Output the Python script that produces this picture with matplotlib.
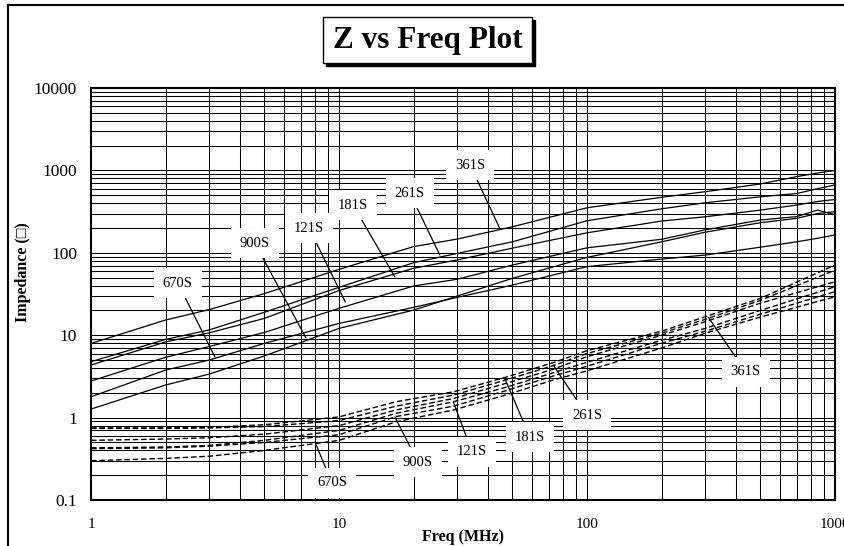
import matplotlib
matplotlib.use("Agg")
import matplotlib.pyplot as plt
import numpy as np
from matplotlib.patches import Rectangle
from matplotlib.ticker import LogLocator, NullFormatter

plt.rcParams['font.family'] = ['Liberation Serif', 'DejaVu Sans']

# parts, in order of impedance at 100 MHz
parts = ['361S', '261S', '181S', '121S', '900S', '670S']

# solid curves (impedance, ohm)
freq_s = [1, 2, 3, 5, 10, 20, 30, 50, 100, 200, 300, 500, 700, 850, 1000]
z_solid = [
    [7.95, 15.3, 20.5, 32, 63, 119, 147, 207, 352, 472, 552, 685, 840, 930, 1000],
    [4.77, 8.9, 11.6, 19, 38.1, 75.9, 98.5, 136, 245, 342, 405, 479, 524, 600, 667],
    [4.35, 8.3, 10.7, 16.0, 34.9, 65, 82, 114, 175, 243, 274, 330, 380, 420, 444],
    [2.78, 5.4, 7.3, 10.8, 21.2, 39.6, 47.8, 71, 115, 146, 190, 250, 275, 330, 290],
    [1.27, 2.49, 3.38, 5.6, 12.1, 20.2, 29.9, 49, 88, 136, 178, 232, 262, 300, 315],
    [1.79, 3.78, 5.0, 7.96, 13.9, 21.8, 28.8, 40.6, 68, 84, 94, 117, 136, 150, 165],
]

# dashed curves
freq_d = [1, 2, 3, 5, 10, 17, 29, 47, 73, 100, 200, 300, 500, 1000]
z_dashed = [
    [0.75, 0.75, 0.76, 0.82, 1.02, 1.56, 2.06, 3.09, 4.64, 6.5, 11.2, 16.8, 28, 71],
    [0.74, 0.74, 0.75, 0.78, 0.92, 1.38, 1.88, 2.86, 4.27, 6.0, 10.6, 15.6, 26.5, 61.6],
    [0.53, 0.55, 0.57, 0.63, 0.80, 1.24, 1.71, 2.6, 3.86, 5.5, 10.0, 14.6, 24.5, 44.6],
    [0.43, 0.44, 0.46, 0.53, 0.70, 1.13, 1.56, 2.33, 3.5, 4.7, 8.7, 12.1, 20, 38.8],
    [0.42, 0.43, 0.45, 0.50, 0.62, 1.03, 1.38, 2.12, 3.2, 4.2, 8.0, 11.2, 18, 33.8],
    [0.30, 0.32, 0.34, 0.40, 0.53, 0.89, 1.24, 1.88, 2.86, 3.7, 7.0, 10.6, 16.6, 29.3],
]

# label text position and the point each leader line reaches
solid_labels = ['670S', '900S', '121S', '181S', '261S', '361S']
solid_text = [(2.24, 43), (4.58, 131), (7.57, 200), (11.4, 380), (19.3, 532), (33.8, 1161)]
solid_tip = [(3.16, 5.45), (7.36, 9.25), (10.6, 25.3), (16.8, 50.9), (25.5, 94), (44.6, 194)]

dash_labels = ['670S', '900S', '121S', '181S', '261S', '361S']
dash_text = [(9.37, 0.161), (20.8, 0.289), (34.4, 0.383), (58.9, 0.58), (100, 1.07), (437, 3.59)]
dash_tip = [(8.0, 0.505), (16.8, 1.02), (28.9, 1.55), (46.7, 2.94), (73, 4.35), (308, 16.6)]

xticks = [1, 10, 100, 1000]
xticklabels = ['1', '10', '100', '1000']
yticks = [0.1, 1, 10, 100, 1000, 10000]
yticklabels = ['0.1', '1', '10', '100', '1000', '10000']

fig = plt.figure(figsize=(8.45, 5.46), dpi=100)
ax = fig.add_axes([0.1077, 0.0842, 0.8805, 0.7546])

for vals in z_solid:
    ax.plot(freq_s, vals, color='black', lw=0.9)
for vals in z_dashed:
    ax.plot(freq_d, vals, color='black', lw=1.0, dashes=(4, 2))

ax.set_xscale('log')
ax.set_yscale('log')
ax.set_xlim(1, 1000)
ax.set_ylim(0.1, 10000)

ax.set_xticks(xticks, labels=xticklabels)
ax.set_yticks(yticks, labels=yticklabels)
ax.xaxis.set_minor_locator(LogLocator(base=10, subs=np.arange(2, 10), numticks=30))
ax.yaxis.set_minor_locator(LogLocator(base=10, subs=np.arange(2, 10), numticks=30))
ax.xaxis.set_minor_formatter(NullFormatter())
ax.yaxis.set_minor_formatter(NullFormatter())
ax.grid(which='both', color='black', lw=0.75)
ax.set_axisbelow(True)
ax.tick_params(which='both', length=0)
ax.tick_params(axis='x', labelsize=11, pad=13)
ax.tick_params(axis='y', labelsize=12.5, pad=10)
for sp in ax.spines.values():
    sp.set_linewidth(1.5)

ax.set_xlabel('Freq (MHz)', fontsize=11.5, fontweight='bold')
ax.xaxis.label.set_va('center')
ax.xaxis.set_label_coords(0.5, -0.09)
ax.set_ylabel('Impedance (\u25a1)', fontsize=11.5, fontweight='bold')
ax.yaxis.label.set_va('center')
ax.yaxis.set_label_coords(-0.091, 0.553)

box = dict(boxstyle='square,pad=0.6', fc='white', ec='none')
arrow = dict(arrowstyle='-', color='black', lw=0.9, shrinkA=0, shrinkB=0)
for name, txt, tip in zip(solid_labels, solid_text, solid_tip):
    ax.annotate(name, xy=tip, xytext=txt, ha='center', va='center',
                fontsize=10.5, bbox=box, arrowprops=arrow)
for name, txt, tip in zip(dash_labels, dash_text, dash_tip):
    ax.annotate(name, xy=tip, xytext=txt, ha='center', va='center',
                fontsize=10.5, bbox=box, arrowprops=arrow)

# title box with drop shadow
fig.add_artist(Rectangle((0.3858, 0.8791), 0.2473, 0.0842, transform=fig.transFigure,
                         fc='black', ec='black', lw=1))
fig.add_artist(Rectangle((0.3822, 0.8846), 0.2473, 0.0842, transform=fig.transFigure,
                         fc='white', ec='black', lw=1))
fig.text(0.5059, 0.9267, 'Z vs Freq Plot', ha='center', va='center',
         fontsize=22.5, fontweight='bold')

# outer frame
fig.add_artist(Rectangle((0.0095, -0.1), 1.2, 1.0908, transform=fig.transFigure,
                         fill=False, ec='black', lw=1.5))

fig.savefig('out.png', dpi=100)
